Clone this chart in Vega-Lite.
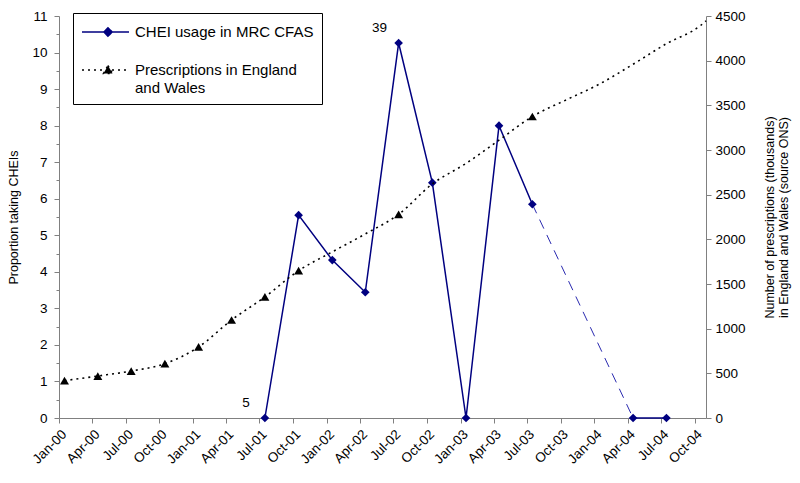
{
  "$schema": "https://vega.github.io/schema/vega-lite/v6.json",
  "width": 647,
  "height": 402,
  "autosize": {"type": "none"},
  "padding": {"left": 59, "top": 16, "right": 94, "bottom": 65},
  "background": "white",
  "config": {
    "view": {"stroke": null},
    "font": "Liberation Sans",
    "axis": {
      "domainColor": "#808080",
      "tickColor": "#808080",
      "labelColor": "black",
      "labelFont": "Liberation Sans",
      "labelFontSize": 13.5,
      "titleFont": "Liberation Sans",
      "titleFontSize": 12.5,
      "titleFontWeight": "normal",
      "titleColor": "black",
      "grid": false
    }
  },
  "datasets": {
    "chei": [
      {"date": "2001-07-16", "value": 0, "part": "a", "label": "5"},
      {"date": "2001-10-16", "value": 5.55, "part": "a"},
      {"date": "2002-01-16", "value": 4.32, "part": "a"},
      {"date": "2002-04-16", "value": 3.44, "part": "a"},
      {"date": "2002-07-16", "value": 10.26, "part": "a", "label": "39"},
      {"date": "2002-10-16", "value": 6.44, "part": "a"},
      {"date": "2003-01-16", "value": 0, "part": "a"},
      {"date": "2003-04-16", "value": 8.0, "part": "a"},
      {"date": "2003-07-16", "value": 5.85, "part": "a"},
      {"date": "2004-04-16", "value": 0, "part": "b"},
      {"date": "2004-07-16", "value": 0, "part": "b"}
    ],
    "presc": [
      {"date": "2000-01-16", "thousands": 418, "marker": true},
      {"date": "2000-04-16", "thousands": 470, "marker": true},
      {"date": "2000-07-16", "thousands": 526, "marker": true},
      {"date": "2000-10-16", "thousands": 608, "marker": true},
      {"date": "2001-01-16", "thousands": 795, "marker": true},
      {"date": "2001-04-16", "thousands": 1097, "marker": true},
      {"date": "2001-07-16", "thousands": 1355, "marker": true},
      {"date": "2001-10-16", "thousands": 1649, "marker": true},
      {"date": "2002-01-16", "thousands": 1860, "marker": false},
      {"date": "2002-04-16", "thousands": 2060, "marker": false},
      {"date": "2002-07-16", "thousands": 2280, "marker": true},
      {"date": "2002-10-16", "thousands": 2620, "marker": false},
      {"date": "2003-01-16", "thousands": 2850, "marker": false},
      {"date": "2003-04-16", "thousands": 3110, "marker": false},
      {"date": "2003-07-16", "thousands": 3375, "marker": true},
      {"date": "2003-10-16", "thousands": 3560, "marker": false},
      {"date": "2004-01-16", "thousands": 3740, "marker": false},
      {"date": "2004-04-16", "thousands": 3960, "marker": false},
      {"date": "2004-07-16", "thousands": 4190, "marker": false},
      {"date": "2004-10-16", "thousands": 4390, "marker": false},
      {"date": "2004-11-01", "thousands": 4445, "marker": false}
    ]
  },
  "encoding": {
    "x": {
      "field": "date",
      "type": "temporal",
      "scale": {
        "type": "utc",
        "domain": [
          {"year": 2000, "month": 1, "date": 1, "utc": true},
          {"year": 2004, "month": 11, "date": 1, "utc": true}
        ]
      },
      "axis": {
        "title": null,
        "labelExpr": "utcFormat(datum.value, '%b-%y')",
        "labelAngle": -45,
        "labelOverlap": false,
        "labelPadding": 4,
        "tickSize": 5,
        "values": [
          {"year": 2000, "month": 1, "date": 1, "utc": true},
          {"year": 2000, "month": 4, "date": 1, "utc": true},
          {"year": 2000, "month": 7, "date": 1, "utc": true},
          {"year": 2000, "month": 10, "date": 1, "utc": true},
          {"year": 2001, "month": 1, "date": 1, "utc": true},
          {"year": 2001, "month": 4, "date": 1, "utc": true},
          {"year": 2001, "month": 7, "date": 1, "utc": true},
          {"year": 2001, "month": 10, "date": 1, "utc": true},
          {"year": 2002, "month": 1, "date": 1, "utc": true},
          {"year": 2002, "month": 4, "date": 1, "utc": true},
          {"year": 2002, "month": 7, "date": 1, "utc": true},
          {"year": 2002, "month": 10, "date": 1, "utc": true},
          {"year": 2003, "month": 1, "date": 1, "utc": true},
          {"year": 2003, "month": 4, "date": 1, "utc": true},
          {"year": 2003, "month": 7, "date": 1, "utc": true},
          {"year": 2003, "month": 10, "date": 1, "utc": true},
          {"year": 2004, "month": 1, "date": 1, "utc": true},
          {"year": 2004, "month": 4, "date": 1, "utc": true},
          {"year": 2004, "month": 7, "date": 1, "utc": true},
          {"year": 2004, "month": 10, "date": 1, "utc": true}
        ]
      }
    }
  },
  "layer": [
    {
      "data": {"name": "chei"},
      "encoding": {
        "y": {
          "field": "value",
          "type": "quantitative",
          "scale": {"domain": [0, 11], "nice": false, "zero": true},
          "axis": {
            "title": "Proportion taking CHEIs",
            "orient": "left",
            "values": [0, 0.5, 1, 1.5, 2, 2.5, 3, 3.5, 4, 4.5, 5, 5.5, 6, 6.5, 7, 7.5, 8, 8.5, 9, 9.5, 10, 10.5, 11],
            "labelExpr": "datum.value % 1 == 0 ? format(datum.value, 'd') : ''",
            "tickSize": {"condition": {"test": "datum.value % 1 != 0", "value": 3}, "value": 5},
            "labelPadding": 7,
            "titlePadding": 11
          }
        }
      },
      "layer": [
        {
          "transform": [{"filter": "datum.date >= toDate('2003-07-16') && datum.date <= toDate('2004-04-16')"}],
          "mark": {"type": "line", "color": "#2a2ab0", "strokeWidth": 1, "strokeDash": [10, 7]},
          "encoding": {}
        },
        {
          "mark": {"type": "line", "strokeWidth": 1.5},
          "encoding": {
            "detail": {"field": "part"},
            "color": {
              "datum": "CHEI usage in MRC CFAS",
              "type": "nominal",
              "scale": {
                "domain": ["CHEI usage in MRC CFAS", "Prescriptions in England and Wales"],
                "range": ["#000080", "#000000"]
              },
              "legend": {
                "title": null,
                "orient": "none",
                "legendX": 14,
                "legendY": -3,
                "strokeColor": "black",
                "fillColor": "white",
                "padding": 8,
                "labelFont": "Liberation Sans",
                "labelFontSize": 15,
                "labelColor": "black",
                "labelLimit": 300,
                "labelOffset": 32,
                "rowPadding": 19,
                "symbolSize": 400,
                "symbolStrokeWidth": 1.5,
                "labelExpr": "datum.value == 'Prescriptions in England and Wales' ? ['Prescriptions in England', 'and Wales'] : datum.value",
                "encode": {
                  "labels": {"update": {"lineHeight": {"value": 18}}},
                  "symbols": {
                    "update": {
                      "shape": {"signal": "datum.value == 'CHEI usage in MRC CFAS' ? 'M-1,0L3.7,0M1.6,-0.42L2.02,0L1.6,0.42L1.18,0Z' : 'M-1,0L3.7,0M1.6,-0.45L2.05,0.35L1.15,0.35Z'"},
                      "fill": {"signal": "datum.value == 'CHEI usage in MRC CFAS' ? '#000080' : '#000000'"},
                      "stroke": {"signal": "datum.value == 'CHEI usage in MRC CFAS' ? '#000080' : '#000000'"},
                      "strokeDash": {"signal": "datum.value == 'CHEI usage in MRC CFAS' ? [1, 0] : [2, 4]"},
                      "opacity": {"value": 1}
                    }
                  }
                }
              }
            }
          }
        },
        {
          "mark": {"type": "point", "shape": "diamond", "filled": true, "color": "#000080", "size": 75, "opacity": 1},
          "encoding": {}
        },
        {
          "transform": [{"filter": "datum.label != null"}],
          "mark": {"type": "text", "fontSize": 13.5, "color": "black", "dx": -19, "dy": -15, "font": "Liberation Sans"},
          "encoding": {"text": {"field": "label"}}
        }
      ]
    },
    {
      "data": {"name": "presc"},
      "encoding": {
        "y": {
          "field": "thousands",
          "type": "quantitative",
          "scale": {"domain": [0, 4500], "nice": false},
          "axis": {
            "title": ["Number of prescriptions (thousands)", "in England and Wales (source ONS)"],
            "titleAngle": 270,
            "titleLineHeight": 14,
            "orient": "right",
            "format": "d",
            "values": [0, 500, 1000, 1500, 2000, 2500, 3000, 3500, 4000, 4500],
            "tickSize": 5,
            "labelPadding": 4,
            "titlePadding": 17
          }
        }
      },
      "layer": [
        {
          "mark": {"type": "line", "strokeWidth": 1.6, "strokeDash": [2, 4], "interpolate": "monotone"},
          "encoding": {
            "color": {"datum": "Prescriptions in England and Wales", "type": "nominal"}
          }
        },
        {
          "transform": [{"filter": "datum.marker"}],
          "mark": {"type": "point", "shape": "triangle-up", "filled": true, "color": "black", "size": 80, "opacity": 1},
          "encoding": {}
        }
      ]
    }
  ],
  "resolve": {"scale": {"y": "independent"}}
}
